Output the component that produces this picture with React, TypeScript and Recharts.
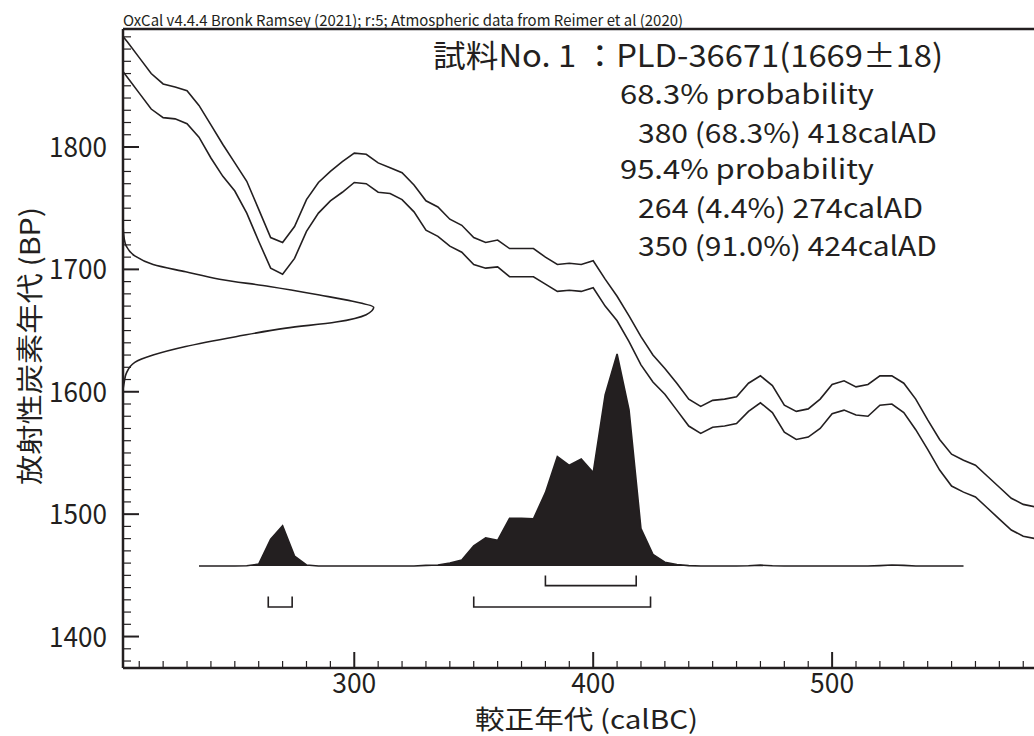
import React from "react";
import {
  ComposedChart, Line, Area, XAxis, YAxis, ReferenceLine,
} from "recharts";

const INK = "#231f20";
const FONT = "'Noto Sans CJK JP', 'Noto Sans', sans-serif";

// IntCal20 curve (1 sigma envelope), 5-year steps
const curveYears = [
  200, 205, 210, 215, 220, 225, 230, 235, 240, 245,
  250, 255, 260, 265, 270, 275, 280, 285, 290, 295,
  300, 305, 310, 315, 320, 325, 330, 335, 340, 345,
  350, 355, 360, 365, 370, 375, 380, 385, 390, 395,
  400, 405, 410, 415, 420, 425, 430, 435, 440, 445,
  450, 455, 460, 465, 470, 475, 480, 485, 490, 495,
  500, 505, 510, 515, 520, 525, 530, 535, 540, 545,
  550, 555, 560, 565, 570, 575, 580, 585,
];
const upperBP = [
  1898, 1886, 1873, 1860, 1851.5, 1849, 1846, 1834, 1818, 1802,
  1787, 1772, 1749, 1726, 1722, 1735, 1757, 1771, 1780, 1788,
  1795, 1794, 1787, 1783, 1779, 1769, 1756, 1751, 1741, 1736,
  1726, 1722, 1724, 1717, 1717, 1717, 1710, 1704, 1705, 1704,
  1707, 1692, 1678, 1662, 1645, 1630, 1619, 1607, 1594, 1588,
  1593, 1594, 1596, 1607, 1613, 1605, 1589, 1584, 1586, 1594,
  1606, 1609, 1604, 1606, 1613, 1613, 1607, 1594, 1577, 1561,
  1549, 1544, 1540, 1531, 1522, 1513, 1508, 1506,
];
const lowerBP = [
  1870, 1857, 1844, 1831, 1824, 1823, 1819, 1808, 1791, 1776,
  1764, 1746, 1723, 1701, 1696, 1709, 1731, 1746, 1756, 1763,
  1771, 1770, 1763, 1762, 1757, 1747, 1732, 1727, 1719, 1714,
  1704, 1701, 1702, 1694, 1694, 1694, 1688, 1682, 1683, 1682,
  1685, 1670, 1658, 1641, 1622, 1608, 1598, 1585, 1572, 1566,
  1571, 1572, 1574, 1584, 1591, 1583, 1567, 1561, 1563, 1570,
  1582, 1585, 1581, 1580, 1589, 1590, 1583, 1569, 1553, 1536,
  1523, 1518, 1514, 1505, 1496, 1487, 1482, 1480,
];

// calibrated probability (relative)
const distYears = [
  235, 240, 245, 250, 255, 260, 265, 270, 275, 280,
  285, 290, 295, 300, 305, 310, 315, 320, 325, 330,
  335, 340, 345, 350, 355, 360, 365, 370, 375, 380,
  385, 390, 395, 400, 405, 410, 415, 420, 425, 430,
  435, 440, 445, 450, 455, 460, 465, 470, 475, 480,
  485, 490, 495, 500, 505, 510, 515, 520, 525, 530,
  535, 540, 545, 550, 555,
];
const distProb = [
  0, 0, 0, 0, 0.0014, 0.009, 0.126, 0.19, 0.047, 0.005,
  0, 0, 0, 0, 0, 0, 0, 0, 0, 0.003,
  0.005, 0.014, 0.028, 0.095, 0.133, 0.121, 0.225, 0.225, 0.223, 0.346,
  0.516, 0.475, 0.505, 0.441, 0.807, 1, 0.736, 0.176, 0.055, 0.018,
  0.007, 0.002, 0, 0, 0, 0, 0.001, 0.004, 0.001, 0,
  0, 0, 0, 0, 0, 0, 0, 0.002, 0.005, 0.003,
  0, 0, 0, 0, 0,
];

// radiocarbon determination 1669±18 BP (relative density)
const gaussBP = [
  1737, 1725, 1719, 1711, 1704, 1698, 1692, 1686, 1679, 1674, 1669,
  1663, 1657, 1652, 1645, 1637, 1630, 1624, 1615, 1608, 1602,
];
const gaussDensity = [
  0, 0.005, 0.013, 0.047, 0.12, 0.25, 0.385, 0.584, 0.784, 0.916, 1,
  0.97, 0.85, 0.65, 0.45, 0.25, 0.12, 0.047, 0.013, 0.005, 0,
];

// ranges (calAD)
const range68 = [[380, 418]];
const range95 = [[264, 274], [350, 424]];

const xTicks = [
  210, 220, 230, 240, 250, 260, 270, 280, 290, 300, 310, 320, 330, 340, 350,
  360, 370, 380, 390, 400, 410, 420, 430, 440, 450, 460, 470, 480, 490, 500,
  510, 520, 530, 540, 550, 560, 570, 580,
];
const yTicks = [
  1380, 1390, 1400, 1410, 1420, 1430, 1440, 1450, 1460, 1470, 1480, 1490,
  1500, 1510, 1520, 1530, 1540, 1550, 1560, 1570, 1580, 1590, 1600, 1610,
  1620, 1630, 1640, 1650, 1660, 1670, 1680, 1690, 1700, 1710, 1720, 1730,
  1740, 1750, 1760, 1770, 1780, 1790, 1800, 1810, 1820, 1830, 1840, 1850,
  1860, 1870, 1880, 1890,
];

const upperRows = curveYears.map((year, i) => ({ year, bp: upperBP[i] }));
const lowerRows = curveYears.map((year, i) => ({ year, bp: lowerBP[i] }));
const distRows = distYears.map((year, i) => ({ year, p: distProb[i] }));
const gaussRows = gaussBP.map((bp, i) => ({ d: gaussDensity[i], bp }));

const bracket = (r: number[], bottom: number, top: number) => [
  { year: r[0], bp: top }, { year: r[0], bp: bottom },
  { year: r[1], bp: bottom }, { year: r[1], bp: top },
];

const XTick = ({ x, y, payload }: any) => {
  const major = payload.value % 100 === 0;
  return (
    <g>
      <line x1={x} x2={x} y1={y} y2={y - (major ? 16 : 7)} stroke={INK} strokeWidth={major ? 2 : 1.2} />
      {major && (
        <text x={x} y={y + 25} textAnchor="middle" fontSize={28} fontFamily={FONT} fill={INK}
          textLength={44} lengthAdjust="spacingAndGlyphs">{payload.value}</text>
      )}
    </g>
  );
};

const YTick = ({ x, y, payload }: any) => {
  const major = payload.value % 100 === 0;
  return (
    <g>
      <line x1={x} x2={x + (major ? 16 : 8)} y1={y} y2={y} stroke={INK} strokeWidth={major ? 2 : 1.2} />
      {major && (
        <text x={x - 16} y={y + 10} textAnchor="end" fontSize={28} fontFamily={FONT} fill={INK}
          textLength={58} lengthAdjust="spacingAndGlyphs">{payload.value}</text>
      )}
    </g>
  );
};

const T = ({ x, y, size, len, children, ...rest }: any) => (
  <text x={x} y={y} fontSize={size} fontFamily={FONT} fill={INK}
    textLength={len} lengthAdjust="spacingAndGlyphs" {...rest}>{children}</text>
);

export default function App() {
  return (
    <div style={{ position: "absolute", left: 0, top: 0, width: 1034, height: 736, background: "#fff" }}>
      <ComposedChart width={1034} height={736} margin={{ top: 29, right: 0, bottom: 67, left: 122 }}>
        <XAxis xAxisId={0} type="number" dataKey="year" domain={[203.2, 584.5]} allowDataOverflow
          ticks={xTicks} interval={0} height={1} tickSize={0} tickMargin={0} tickLine={false}
          axisLine={{ stroke: INK, strokeWidth: 2.5 }} tick={(p: any) => <XTick {...p} />} />
        <YAxis yAxisId={0} type="number" domain={[1374.3, 1896.4]} allowDataOverflow
          ticks={yTicks} interval={0} width={1} tickSize={0} tickMargin={0} tickLine={false}
          axisLine={{ stroke: INK, strokeWidth: 2.5 }} tick={(p: any) => <YTick {...p} />} />
        <XAxis xAxisId="g" type="number" dataKey="d" domain={[0, 3.634]} allowDataOverflow hide />
        <YAxis yAxisId="p" type="number" domain={[-0.481, 2.533]} allowDataOverflow hide />

        <ReferenceLine y={1896.4} stroke={INK} strokeWidth={2.5} ifOverflow="visible" />

        <Area data={distRows} dataKey="p" yAxisId="p" type="linear" baseValue={0}
          stroke={INK} strokeWidth={1.6} fill={INK} fillOpacity={1} isAnimationActive={false} />

        <Line data={upperRows} dataKey="bp" type="linear" stroke={INK} strokeWidth={1.6}
          dot={false} isAnimationActive={false} />
        <Line data={lowerRows} dataKey="bp" type="linear" stroke={INK} strokeWidth={1.6}
          dot={false} isAnimationActive={false} />

        <Line data={gaussRows} dataKey="bp" xAxisId="g" type="monotoneY" stroke={INK} strokeWidth={1.6}
          dot={false} isAnimationActive={false} />

        {range68.map((r, i) => (
          <Line key={`r68-${i}`} data={bracket(r, 1441.6, 1449.8)} dataKey="bp" type="linear"
            stroke={INK} strokeWidth={1.6} dot={false} isAnimationActive={false} />
        ))}
        {range95.map((r, i) => (
          <Line key={`r95-${i}`} data={bracket(r, 1424.2, 1432.8)} dataKey="bp" type="linear"
            stroke={INK} strokeWidth={1.6} dot={false} isAnimationActive={false} />
        ))}
      </ComposedChart>

      <svg width={1034} height={736} style={{ position: "absolute", left: 0, top: 0, pointerEvents: "none" }}>
        <T x={123} y={26} size={15} len={560}>
          OxCal v4.4.4 Bronk Ramsey (2021); r:5; Atmospheric data from Reimer et al (2020)
        </T>
        <T x={433} y={67} size={31} len={510}>試料No. 1 ：PLD-36671(1669±18)</T>
        <T x={620} y={104} size={27} len={254}>68.3% probability</T>
        <T x={638} y={142.7} size={27} len={299}>380 (68.3%) 418calAD</T>
        <T x={620} y={179.3} size={27} len={254}>95.4% probability</T>
        <T x={638} y={217.7} size={27} len={285}>264 (4.4%) 274calAD</T>
        <T x={638} y={256} size={27} len={299}>350 (91.0%) 424calAD</T>
        <T x={475} y={729} size={26} len={223}>較正年代 (calBC)</T>
        <T x={0} y={0} size={27} len={278} textAnchor="middle"
          transform="translate(40 346) rotate(-90)">放射性炭素年代 (BP)</T>
      </svg>
    </div>
  );
}
